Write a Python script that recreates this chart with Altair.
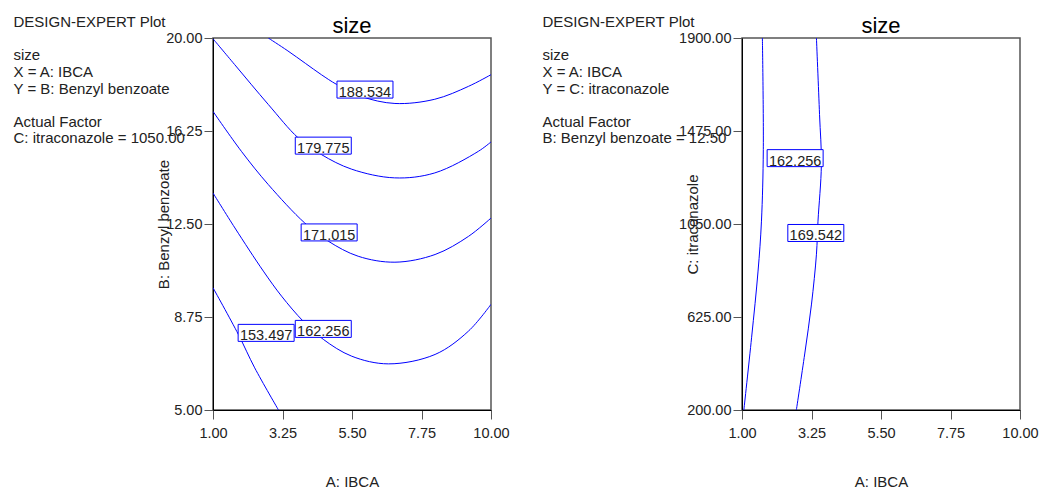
import altair as alt
import pandas as pd

FONT = "Liberation Sans"
BLUE = "#0000ff"
INK = "#222222"

# ---- shared factor: A: IBCA ----
a_ticks = [1.00, 3.25, 5.50, 7.75, 10.00]

# ---- left panel: A: IBCA vs B: Benzyl benzoate (C: itraconazole = 1050) ----
b_ticks = [5.00, 8.75, 12.50, 16.25, 20.00]

ab_188_x = [2.79, 3.40, 4.00, 4.51, 5.00, 5.81, 6.89, 8.18, 9.27, 10.00]
ab_188_y = [20.00, 19.50, 18.97, 18.52, 18.13, 17.64, 17.36, 17.53, 18.05, 18.52]

ab_179_x = [1.00, 1.70, 2.79, 3.76, 4.51, 5.49, 6.88, 8.18, 9.59, 10.00]
ab_179_y = [19.97, 18.93, 17.32, 15.97, 15.30, 14.71, 14.36, 14.56, 15.43, 15.81]

ab_171_x = [1.00, 1.92, 2.79, 3.97, 4.73, 5.70, 6.89, 8.19, 9.27, 10.00]
ab_171_y = [17.04, 15.43, 14.09, 12.54, 11.81, 11.20, 10.96, 11.27, 12.00, 12.74]

ab_162_x = [1.00, 1.71, 2.63, 3.22, 3.92, 4.57, 5.49, 6.68, 8.19, 9.27, 10.00]
ab_162_y = [13.75, 12.34, 10.60, 9.59, 8.58, 7.85, 7.17, 6.86, 7.24, 8.18, 9.26]

ab_153_x = [1.00, 1.82, 2.35, 3.12]
ab_153_y = [9.93, 8.05, 6.70, 5.00]

ab_levels = ["188.534", "179.775", "171.015", "162.256", "153.497"]
ab_label_x = [5.92, 4.57, 4.76, 4.57, 2.72]
ab_label_y = [17.92, 15.66, 12.16, 8.27, 8.11]

ab_info = [["DESIGN-EXPERT Plot"],
           ["size", "X = A: IBCA", "Y = B: Benzyl benzoate"],
           ["Actual Factor", "C: itraconazole = 1050.00"]]

# ---- right panel: A: IBCA vs C: itraconazole (B: Benzyl benzoate = 12.50) ----
c_ticks = [200.00, 625.00, 1050.00, 1475.00, 1900.00]

ac_162_x = [1.66, 1.69, 1.63, 1.52, 1.31, 1.06]
ac_162_y = [1900, 1391, 1063, 835, 530, 200]

ac_169_x = [3.41, 3.51, 3.57, 3.46, 3.41, 3.25, 3.03, 2.76]
ac_169_y = [1900, 1551, 1323, 1063, 912, 684, 456, 200]

ac_levels = ["162.256", "169.542"]
ac_label_x = [2.72, 3.39]
ac_label_y = [1351, 1009]

ac_info = [["DESIGN-EXPERT Plot"],
           ["size", "X = A: IBCA", "Y = C: itraconazole"],
           ["Actual Factor", "B: Benzyl benzoate = 12.50"]]


def contour_frame(curves):
    rows = []
    for level, xs, ys in curves:
        for i, (x, y) in enumerate(zip(xs, ys)):
            rows.append({"level": level, "i": i, "x": x, "y": y})
    return pd.DataFrame(rows)


W, H = 278, 372
NOTE_X = -199.5
NOTE_Y = [-11.5, 22.0, 88.5]      # baseline of the first line of each note block
# label frame: a 56x17 px rectangle as a custom symbol (scaled by sqrt(size)/2)
BOX = "M-1,-0.3036L1,-0.3036L1,0.3036L-1,0.3036Z"


def panel(curves, levels, lx, ly, ydomain, yticks, ytitle, info):
    lines_df = contour_frame(curves)
    labels_df = pd.DataFrame({"level": levels, "x": lx, "y": ly})

    xs = alt.Scale(domain=[1, 10], nice=False, zero=False)
    ys = alt.Scale(domain=ydomain, nice=False, zero=False)
    xax = alt.Axis(values=a_ticks, format=".2f", title="A: IBCA",
                   labelFlush=False, labelPadding=7.5,
                   titleX=W / 2, titleY=76, titleBaseline="alphabetic",
                   titleAlign="center")
    yax = alt.Axis(values=yticks, format=".2f", title=ytitle,
                   labelPadding=2, titleAngle=-90, titleX=-50, titleY=H / 2,
                   titleAlign="center", titleBaseline="middle")
    X = alt.X("x:Q", scale=xs, axis=xax)
    Y = alt.Y("y:Q", scale=ys, axis=yax)

    lines = alt.Chart(lines_df).mark_line(
        color=BLUE, strokeWidth=1, interpolate="catmull-rom", clip=True
    ).encode(x=X, y=Y, detail="level:N", order="i:Q")

    boxes = alt.Chart(labels_df).mark_point(
        shape=BOX, size=3136, filled=True, fill="white", stroke=BLUE,
        strokeWidth=1, opacity=1, fillOpacity=1, strokeOpacity=1
    ).encode(x=X, y=Y)

    texts = alt.Chart(labels_df).mark_text(
        font=FONT, fontSize=14.5, color=INK, baseline="alphabetic", dy=7.5
    ).encode(x=X, y=Y, text="level:N")

    one = alt.Data(values=[{"k": 0}])
    notes = [
        alt.Chart(one).mark_text(
            text=block, lineHeight=16.75, align="left", baseline="alphabetic",
            font=FONT, fontSize=15, color=INK
        ).encode(x=alt.value(NOTE_X), y=alt.value(ny))
        for block, ny in zip(info, NOTE_Y)
    ]

    title = alt.Chart(one).mark_text(
        text="size", align="center", baseline="alphabetic",
        font=FONT, fontSize=22, color="#000000"
    ).encode(x=alt.value(W / 2), y=alt.value(-4.8))

    return alt.layer(lines, boxes, texts, *notes, title).properties(width=W, height=H)


left = panel(
    [("188.534", ab_188_x, ab_188_y), ("179.775", ab_179_x, ab_179_y),
     ("171.015", ab_171_x, ab_171_y), ("162.256", ab_162_x, ab_162_y),
     ("153.497", ab_153_x, ab_153_y)],
    ab_levels, ab_label_x, ab_label_y, [5, 20], b_ticks,
    "B: Benzyl benzoate", ab_info)

right = panel(
    [("162.256", ac_162_x, ac_162_y), ("169.542", ac_169_x, ac_169_y)],
    ac_levels, ac_label_x, ac_label_y, [200, 1900], c_ticks,
    "C: itraconazole", ac_info)

chart = alt.hconcat(left, right, spacing=251, bounds="flush").properties(
    padding={"left": 12, "top": 13, "right": 2, "bottom": 0},
    background="white",
).configure_view(
    stroke="#555555", strokeWidth=1.5
).configure_axis(
    grid=False,
    domainColor="#000000", domainWidth=1,
    tickColor="#555555", tickSize=9, tickWidth=1,
    labelFont=FONT, labelFontSize=14.5, labelColor=INK,
    titleFont=FONT, titleFontSize=15, titleFontWeight="normal", titleColor=INK,
    labelOverlap=False,
)

chart.save("out.html", embed_options={"renderer": "svg", "actions": False})
